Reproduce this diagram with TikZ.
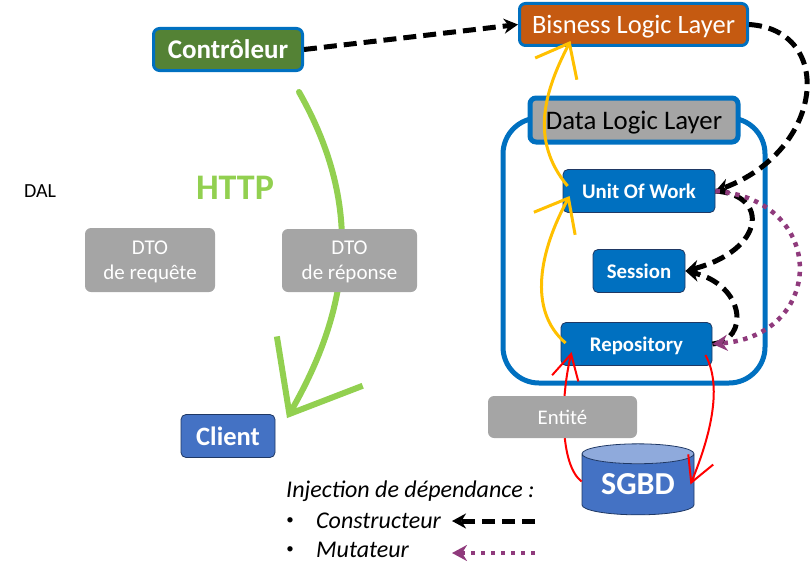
\documentclass[tikz,border=0pt]{standalone}
\usepackage{fontspec}
\setmainfont{Carlito}
\usepackage{xcolor}
\usetikzlibrary{arrows.meta,shapes.geometric}
\definecolor{boxblue}{HTML}{0070C0}
\definecolor{darkblue}{HTML}{1F3864}
\definecolor{clientblue}{HTML}{4472C4}
\definecolor{topblue}{HTML}{8FAADC}
\definecolor{ctrlgreen}{HTML}{548235}
\definecolor{httpgreen}{HTML}{92D050}
\definecolor{bizorange}{HTML}{C55A11}
\definecolor{boxgray}{HTML}{A5A5A5}
\definecolor{mutpurple}{HTML}{8F3A7C}
\definecolor{useyellow}{HTML}{FFC000}
\tikzset{
  smallbox/.style={draw=darkblue,line width=0.8pt,fill=boxblue,rounded corners=5pt,text=white,text depth=0pt,font=\bfseries\fontsize{20.8}{25}\selectfont,minimum height=43pt},
  graybox/.style={fill=boxgray,rounded corners=6pt,text=white,align=center,inner sep=0pt,text depth=0pt},
  layerbox/.style={draw=boxblue,rounded corners=6pt,inner sep=0pt,text depth=0pt},
  ctorline/.style={draw=black,line width=5pt,dash pattern=on 13pt off 7pt,-{Stealth[length=14pt,width=15pt]}},
  setline/.style={draw=mutpurple,line width=4.5pt,dash pattern=on 4.5pt off 5.5pt,-{Stealth[length=15pt,width=16pt]}},
  useline/.style={draw=useyellow,line width=3pt,-{Straight Barb[length=29pt,width=47pt]}},
  dbline/.style={draw=red,line width=2pt,-{Straight Barb[length=25pt,width=27pt]}},
  httpline/.style={draw=httpgreen,line width=6pt,line cap=round,-{Straight Barb[length=61pt,width=99pt]}},
  legendtext/.style={anchor=west,inner sep=0pt,font=\itshape\fontsize{24}{29}\selectfont}
}
\begin{document}
\begin{tikzpicture}[x=1pt,y=-1pt]
  \useasboundingbox (0,0) rectangle (810,578);
  \node[draw=boxblue,line width=5pt,rounded corners=36pt,minimum width=262pt,minimum height=265pt] (dataframe) at (634,250.5) {};
  \node[layerbox,line width=5pt,fill=boxgray,minimum width=208pt,minimum height=44pt,font=\fontsize{26.8}{32}\selectfont] (datalayer) at (634,120) {Data Logic Layer};
  \node[layerbox,line width=3pt,fill=bizorange,text=white,minimum width=228pt,minimum height=42pt,font=\fontsize{26.5}{32}\selectfont] (bizlayer) at (633.5,24.5) {Bisness Logic Layer};
  \node[layerbox,line width=3pt,fill=ctrlgreen,text=white,minimum width=149pt,minimum height=42pt,font=\bfseries\fontsize{27}{32}\selectfont] (controleur) at (228,49.5) {Contrôleur};
  \node[smallbox,minimum width=152pt] (unitofwork) at (639,191) {Unit Of Work};
  \node[smallbox,minimum width=92pt] (session) at (639,271) {Session};
  \node[smallbox,minimum width=151pt] (repository) at (636.5,344) {Repository};
  \node[smallbox,fill=clientblue,minimum width=94pt,font=\bfseries\fontsize{26.5}{32}\selectfont] (client) at (228,436) {Client};
  \node[draw=darkblue,line width=0.8pt,cylinder,shape border rotate=90,aspect=0.27,cylinder uses custom fill,cylinder body fill=clientblue,cylinder end fill=topblue,minimum width=112pt,minimum height=71pt,inner sep=0pt,text=white,font=\bfseries\fontsize{32}{38}\selectfont] (sgbd) at (638,484.5) {SGBD};
  \node[anchor=center,inner sep=0pt,font=\fontsize{20}{24}\selectfont] (dal) at (40,191) {DAL};
  \node[anchor=center,inner sep=0pt,text=httpgreen,font=\bfseries\fontsize{36}{43}\selectfont] (http) at (235,188) {HTTP};
  \node[graybox,minimum width=130pt,minimum height=64pt,font=\fontsize{21}{25}\selectfont] (dtoreq) at (150,260) {DTO\\de requête};

  \draw[ctorline] (controleur.east) -- (bizlayer.west);
  \draw[ctorline] (bizlayer.east) .. controls (835,30) and (825,150) .. (unitofwork.east);
  \draw[ctorline] (unitofwork.east) .. controls (770,195) and (765,250) .. (session.east);
  \draw[ctorline] (repository.east) .. controls (750,340) and (745,285) .. (session.east);
  \draw[setline] (unitofwork.east) .. controls (828,200) and (826,335) .. (repository.east);
  \draw[useline] ([xshift=5pt,yshift=1pt]repository.west) .. controls (527,310) and (540,250) .. ([xshift=7pt,yshift=-5pt]unitofwork.west);
  \draw[useline] ([xshift=5pt,yshift=5pt]unitofwork.west) .. controls (529,140) and (545,90) .. ([xshift=-63pt,yshift=6pt]bizlayer.south);
  \draw[httpline] ([xshift=71pt,yshift=-20pt]controleur.south) .. controls (366,210) and (348,312) .. ([xshift=59pt,yshift=-4pt]client.north);
  \node[graybox,minimum width=135pt,minimum height=63pt,font=\fontsize{21}{25}\selectfont] (dtorep) at (349.5,260.5) {DTO\\de réponse};
  \draw[dbline] ([yshift=3pt]sgbd.west) .. controls (560,465) and (560,400) .. ([xshift=11pt,yshift=-8pt]repository.west);
  \node[graybox,minimum width=149pt,minimum height=42pt,font=\fontsize{20.8}{25}\selectfont] (entite) at (562.5,417) {Entité};
  \draw[dbline] ([xshift=-7pt,yshift=-11pt]repository.east) .. controls (722,385) and (712,432) .. ([xshift=-4pt]sgbd.east);

  \node[legendtext] (legendtitle) at (286,491) {Injection de dépendance~:};
  \node[inner sep=0pt,font=\fontsize{15}{18}\selectfont] (bulletone) at (290,521) {•};
  \node[legendtext] (constructeur) at (316,521) {Constructeur};
  \node[inner sep=0pt,font=\fontsize{15}{18}\selectfont] (bullettwo) at (290,550) {•};
  \node[legendtext] (mutateur) at (316,550) {Mutateur};
  \coordinate (ctorstart) at (535,521);
  \coordinate (ctorend) at (452,521);
  \coordinate (setstart) at (535,553);
  \coordinate (setend) at (452,553);
  \draw[ctorline] (ctorstart) -- (ctorend);
  \draw[setline] (setstart) -- (setend);
\end{tikzpicture}
\end{document}
